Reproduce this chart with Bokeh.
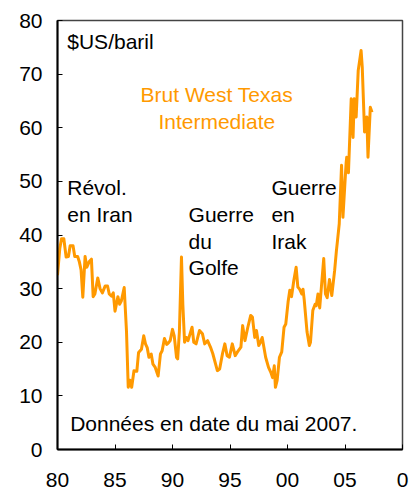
from bokeh.plotting import figure
from bokeh.models import ColumnDataSource, FixedTicker
from bokeh.core.properties import value
from bokeh.embed import file_html
from bokeh.resources import INLINE

# WTI crude oil price, $US/barrel
years = [
    1980.0, 1980.2, 1980.35, 1980.55, 1980.75, 1980.95, 1981.1, 1981.35, 1981.5, 1981.75,
    1981.9, 1982.05, 1982.2, 1982.4, 1982.55, 1982.75, 1982.95, 1983.1, 1983.25, 1983.5,
    1983.7, 1983.9, 1984.15, 1984.35, 1984.5, 1984.7, 1984.85, 1985.0, 1985.25, 1985.4,
    1985.55, 1985.8, 1986.0, 1986.15, 1986.3, 1986.45, 1986.65, 1986.9, 1987.05, 1987.3,
    1987.5, 1987.65, 1987.8, 1987.95, 1988.15, 1988.3, 1988.5, 1988.75, 1988.95, 1989.1,
    1989.3, 1989.5, 1989.65, 1989.8, 1990.0, 1990.15, 1990.35, 1990.45, 1990.6, 1990.78,
    1990.9, 1991.05, 1991.2, 1991.35, 1991.7, 1991.85, 1992.05, 1992.35, 1992.6, 1992.8,
    1993.05, 1993.3, 1993.5, 1993.9, 1994.1, 1994.35, 1994.55, 1994.75, 1994.95, 1995.2,
    1995.45, 1995.65, 1995.95, 1996.1, 1996.3, 1996.55, 1996.8, 1996.95, 1997.15, 1997.3,
    1997.5, 1997.65, 1997.8, 1998.1, 1998.35, 1998.55, 1998.7, 1998.85, 1998.95, 1999.1,
    1999.3, 1999.5, 1999.7, 1999.85, 2000.05, 2000.2, 2000.35, 2000.55, 2000.75, 2000.9,
    2001.05, 2001.25, 2001.35, 2001.45, 2001.7, 2001.9, 2002.0, 2002.2, 2002.4, 2002.5,
    2002.65, 2002.8, 2003.15, 2003.3, 2003.45, 2003.65, 2003.85, 2004.1, 2004.25, 2004.35,
    2004.5, 2004.7, 2004.82, 2005.0, 2005.1, 2005.15, 2005.3, 2005.54, 2005.7, 2005.8,
    2005.97, 2006.15, 2006.4, 2006.5, 2006.7, 2006.9, 2007.0, 2007.2, 2007.35,
]
prices = [
    32.5, 37.5, 39.3, 39.3, 35.9, 36.0, 38.0, 38.0, 36.0, 36.0,
    35.0, 33.5, 28.4, 36.0, 34.0, 35.0, 35.5, 28.5, 29.0, 32.0,
    30.0, 29.2, 30.5, 30.5, 29.0, 28.6, 29.2, 25.8, 28.5, 27.1,
    27.7, 30.2, 22.0, 11.6, 12.9, 11.6, 14.7, 14.6, 18.1, 18.7,
    21.2, 19.7, 19.0, 17.2, 17.8, 15.9, 15.3, 13.7, 17.8, 18.4,
    20.7, 19.6, 19.9, 20.3, 22.4, 21.2, 17.2, 16.9, 22.0, 35.9,
    27.0, 20.0, 20.9, 20.3, 22.8, 20.0, 19.7, 22.2, 21.6, 19.7,
    20.3, 19.1, 17.9, 14.7, 15.0, 17.9, 19.7, 17.5, 17.2, 19.7,
    17.5, 18.2, 19.1, 23.1, 20.3, 22.8, 25.0, 24.7, 20.9, 22.2,
    19.4, 20.0, 20.9, 17.2, 15.3, 14.4, 13.4, 15.6, 11.6, 12.9,
    17.2, 18.2, 22.8, 23.4, 27.5, 29.7, 28.5, 31.5, 34.0, 30.3,
    29.9, 29.0, 29.9, 28.0, 21.9, 19.4, 20.0, 25.9, 27.1, 26.8,
    29.0, 26.4, 35.6, 29.0, 28.3, 31.7, 28.7, 33.4, 37.0, 39.0,
    42.1, 53.0, 43.3, 49.9, 53.5, 54.5, 51.6, 65.4, 58.2, 65.4,
    62.0, 70.7, 74.4, 71.3, 59.2, 62.0, 54.5, 63.8, 62.9,
]

x_ticks = [1980, 1985, 1990, 1995, 2000, 2005, 2010]
x_tick_labels = ["80", "85", "90", "95", "00", "05", "0"]
y_ticks = [0, 10, 20, 30, 40, 50, 60, 70, 80]

# annotations
black_texts = ["$US/baril", "Révol.", "en Iran", "Guerre", "du", "Golfe",
               "Guerre", "en", "Irak", "Données en date du mai 2007."]
black_x = [1980.85, 1980.85, 1980.85, 1991.4, 1991.4, 1991.4,
           1998.6, 1998.6, 1998.6, 1981.1]
black_y = [76.1, 48.9, 43.8, 43.8, 38.8, 33.9, 48.9, 43.8, 38.8, 4.9]
series_label = ["Brut West Texas", "Intermediate"]
series_label_x = [1993.85, 1993.85]
series_label_y = [66.2, 61.2]

ORANGE = "#FF9900"
FONT = "Liberation Sans"

p = figure(width=412, height=489, x_range=(1980, 2010), y_range=(0, 80),
           output_backend="svg", toolbar_location=None,
           min_border_left=57, min_border_right=10, min_border_top=20,
           min_border_bottom=40)
p.grid.visible = False
p.outline_line_color = "#444444"
p.outline_line_width = 1.5
p.background_fill_color = "white"
p.border_fill_color = "white"

for ax in (p.xaxis[0], p.yaxis[0]):
    ax.axis_line_color = "black"
    ax.axis_line_width = 2
    ax.major_tick_in = 5
    ax.major_tick_out = 0
    ax.major_tick_line_color = "black"
    ax.major_tick_line_width = 1
    ax.minor_tick_line_color = None
    ax.major_label_text_font = FONT
    ax.major_label_text_font_size = "21px"
    ax.major_label_text_color = "black"

p.xaxis[0].ticker = FixedTicker(ticks=x_ticks)
p.xaxis[0].major_label_overrides = {t: l for t, l in zip(x_ticks, x_tick_labels)}
p.xaxis[0].major_label_standoff = 23
p.yaxis[0].ticker = FixedTicker(ticks=y_ticks)
p.yaxis[0].major_label_standoff = 15

src = ColumnDataSource(dict(x=years, y=prices))
p.line("x", "y", source=src, line_color=ORANGE, line_width=3, line_join="round")

tsrc = ColumnDataSource(dict(x=black_x, y=black_y, t=black_texts))
p.text("x", "y", text="t", source=tsrc, text_font=value(FONT),
       text_font_size="21px", text_color="black", text_baseline="alphabetic",
       text_align="left")

osrc = ColumnDataSource(dict(x=series_label_x, y=series_label_y, t=series_label))
p.text("x", "y", text="t", source=osrc, text_font=value(FONT),
       text_font_size="21px", text_color=ORANGE, text_baseline="alphabetic",
       text_align="center")

open("out.html", "w").write(file_html(p, INLINE))
